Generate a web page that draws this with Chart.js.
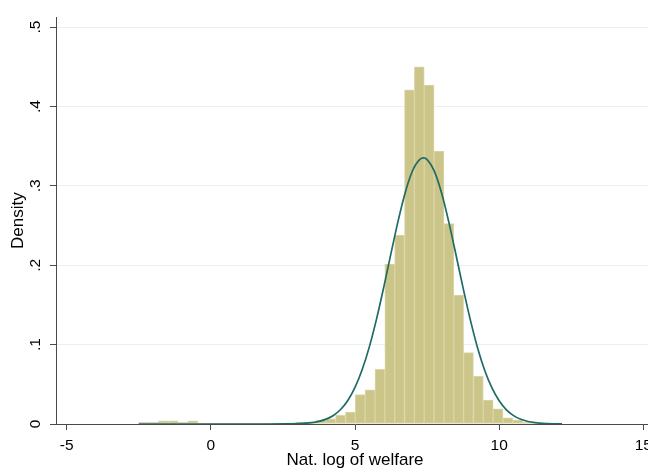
<!DOCTYPE html>
<html>
<head>
<meta charset="utf-8">
<script src="https://cdn.jsdelivr.net/npm/chart.js@4.4.1/dist/chart.umd.min.js"></script>
<style>
  html, body { margin: 0; padding: 0; background: #fff; overflow: hidden; width: 648px; height: 468px; }
  #wrap { width: 680px; height: 468px; }
</style>
</head>
<body>
<div id="wrap"><canvas id="c" width="680" height="468"></canvas></div>
<script>
// Histogram of log welfare: 43 equal-width bins starting at the sample minimum
const binStart = -2.50;
const binWidth = 0.3414;
const density = [
  0.002, 0.002, 0.004, 0.004, 0.002, 0.004, 0.001, 0.0005, 0.001, 0.0005,
  0.001, 0.0005, 0.001, 0.001, 0.001, 0.0015, 0.002, 0.0025, 0.005, 0.0066,
  0.011, 0.015, 0.037, 0.043, 0.069, 0.2015, 0.238, 0.421, 0.450, 0.427,
  0.344, 0.2525, 0.1625, 0.090, 0.060, 0.030, 0.019, 0.0078, 0.005, 0.002,
  0.0015, 0.001, 0.0005
];

// Overlaid normal density curve
const curveX = [
  -2.5, -1, 0, 1, 2, 2.5, 3, 3.5, 3.75, 4, 4.25, 4.5, 4.75, 5, 5.25, 5.5, 5.75,
  6, 6.25, 6.5, 6.75, 7, 7.25, 7.375, 7.5, 7.75, 8, 8.25, 8.5, 8.75, 9, 9.25,
  9.5, 9.75, 10, 10.25, 10.5, 10.75, 11, 11.25, 11.5, 12, 12.18
];
const curveY = [
  0, 0, 0, 0, 0.00001, 0.0001, 0.0004, 0.0017, 0.0033, 0.0061, 0.0108, 0.0183, 0.0297, 0.0461, 0.0686, 0.0975, 0.1327,
  0.1728, 0.2153, 0.2566, 0.2927, 0.3194, 0.3335, 0.3352, 0.3332, 0.3185, 0.2914, 0.2550, 0.2135, 0.1711, 0.1312, 0.0962,
  0.0675, 0.0454, 0.0292, 0.0179, 0.0106, 0.0059, 0.0032, 0.0017, 0.0008, 0.0002, 0.0001
];

const xTickValues = [-5, 0, 5, 10, 15];
const xTickLabels = ['-5', '0', '5', '10', '15'];
const yTickValues = [0, 0.1, 0.2, 0.3, 0.4, 0.5];
const yTickLabels = ['0', '.1', '.2', '.3', '.4', '.5'];

const FONT = '"Liberation Sans", Arial, Helvetica, sans-serif';
const AXIS = '#4a4a4a';

const bars = density.map((d, i) => ({ x: binStart + (i + 0.5) * binWidth, y: d }));
const curve = curveX.map((x, i) => ({ x: x, y: curveY[i] }));

new Chart(document.getElementById('c'), {
  data: {
    datasets: [
      {
        type: 'line',
        data: curve,
        order: 0,
        borderColor: '#1f6b66',
        borderWidth: 1.7,
        pointRadius: 0,
        fill: false,
        cubicInterpolationMode: 'monotone'
      },
      {
        type: 'bar',
        data: bars,
        order: 1,
        backgroundColor: 'rgb(204,197,137)',
        borderColor: 'rgb(218,214,166)',
        borderWidth: 1,
        borderSkipped: false,
        barPercentage: 1,
        categoryPercentage: 1
      }
    ]
  },
  options: {
    responsive: false,
    devicePixelRatio: 1,
    animation: false,
    events: [],
    layout: { padding: { left: 0, right: 26, top: 12, bottom: 0 } },
    plugins: { legend: { display: false }, tooltip: { enabled: false } },
    scales: {
      x: {
        type: 'linear',
        offset: false,
        min: -5.37,
        max: 15.37,
        afterBuildTicks: s => { s.ticks = xTickValues.map(v => ({ value: v })); },
        afterFit: s => { s.height = 44; },
        border: { display: true, color: AXIS, width: 1 },
        grid: { offset: false, drawOnChartArea: false, drawTicks: true, tickLength: 6, tickColor: AXIS },
        ticks: {
          padding: 6,
          color: '#000',
          font: { family: FONT, size: 15.5 },
          maxRotation: 0,
          callback: (v, i) => xTickLabels[i]
        },
        title: {
          display: true,
          text: 'Nat. log of welfare',
          color: '#000',
          font: { family: FONT, size: 17, lineHeight: 1 },
          padding: { top: 0, bottom: -1 }
        }
      },
      y: {
        type: 'linear',
        min: 0,
        max: 0.5124,
        afterBuildTicks: s => { s.ticks = yTickValues.map(v => ({ value: v })); },
        afterFit: s => { s.width = 56; },
        border: { display: true, color: AXIS, width: 1 },
        grid: {
          drawOnChartArea: true,
          drawTicks: true,
          tickLength: 6,
          tickColor: AXIS,
          color: c => (c.tick && c.tick.value === 0) ? 'rgba(0,0,0,0)' : '#e8f0f2',
          lineWidth: 1
        },
        ticks: {
          padding: 8,
          color: '#000',
          font: { family: FONT, size: 15.5 },
          minRotation: 90,
          maxRotation: 90,
          crossAlign: 'center',
          callback: (v, i) => yTickLabels[i]
        },
        title: {
          display: true,
          text: 'Density',
          color: '#000',
          font: { family: FONT, size: 17, lineHeight: 1.2 },
          padding: { top: 8, bottom: 0 }
        }
      }
    }
  }
});
</script>
</body>
</html>
